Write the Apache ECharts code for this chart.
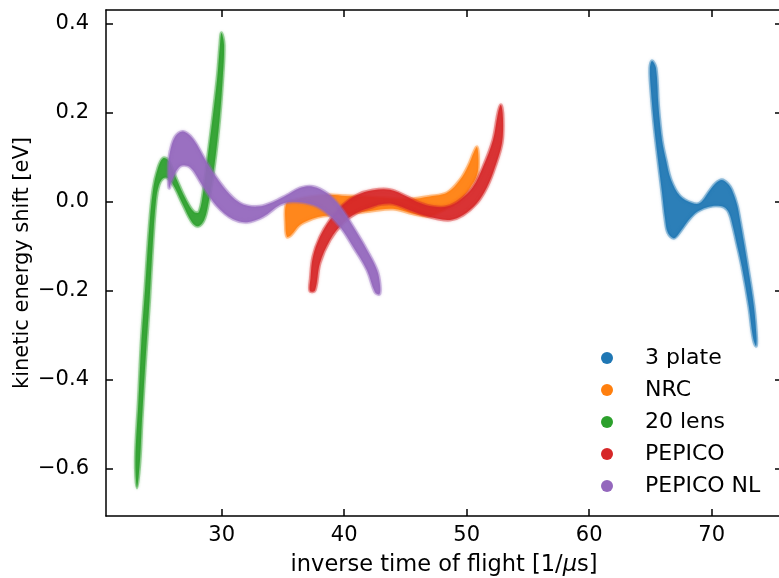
<!DOCTYPE html>
<html>
<head>
<meta charset="utf-8">
<script src="https://cdn.jsdelivr.net/npm/echarts@6/dist/echarts.min.js"></script>
<style>
  html, body { margin: 0; padding: 0; background: #fff; }
  #chart { width: 779px; height: 578px; }
</style>
</head>
<body>
<div id="chart"></div>
<script>
// Outlines of the simulated kinetic-energy-shift clouds, [inverse TOF (1/us), shift (eV)],
// traced once around each band.
const threePlate = [
  [65.13, 0.317], [65.45, 0.301], [65.66, 0.213], [65.94, 0.139], [66.27, 0.094],
  [66.68, 0.049], [67.41, 0.013], [68.39, -0.003], [69.04, -0.003], [69.86, 0.026],
  [70.35, 0.042], [70.84, 0.049], [71.33, 0.040], [71.66, 0.026], [72.07, -0.007],
  [72.31, -0.041], [72.64, -0.093], [72.96, -0.147], [73.45, -0.237], [73.66, -0.307],
  [73.62, -0.325], [73.37, -0.305], [73.04, -0.237], [72.47, -0.147], [71.98, -0.086],
  [71.74, -0.057], [71.41, -0.025], [71.00, -0.012], [70.35, -0.009], [69.70, -0.012],
  [69.04, -0.019], [68.56, -0.028], [67.98, -0.046], [67.41, -0.068], [66.92, -0.082],
  [66.43, -0.070], [66.19, -0.037], [65.94, 0.022], [65.62, 0.094], [65.29, 0.173],
  [65.04, 0.251], [64.96, 0.301]
];

const nrc = [
  [35.29, -0.003], [35.98, 0.004], [37.21, 0.011], [38.84, 0.015], [40.07, 0.013],
  [41.70, 0.011], [43.74, 0.008], [45.37, 0.006], [47.00, 0.012], [48.39, 0.020],
  [49.45, 0.049], [50.11, 0.080], [50.60, 0.112], [50.84, 0.123], [50.96, 0.094],
  [50.84, 0.060], [50.27, 0.031], [49.45, 0.004], [48.39, -0.014], [47.00, -0.032],
  [45.62, -0.027], [43.98, -0.016], [42.11, -0.021], [40.07, -0.028], [38.27, -0.032],
  [37.45, -0.038], [36.39, -0.052], [35.66, -0.075], [35.33, -0.079], [35.21, -0.052]
];

const lens20 = [
  [23.09, -0.644], [22.96, -0.581], [23.21, -0.446], [23.45, -0.311], [23.74, -0.199],
  [24.07, -0.064], [24.39, 0.026], [24.80, 0.076], [25.21, 0.098], [25.62, 0.094],
  [26.27, 0.053], [27.09, 0.004], [27.74, -0.023], [28.15, -0.023], [28.51, 0.026],
  [28.88, 0.105], [29.29, 0.195], [29.66, 0.285], [29.86, 0.353], [29.98, 0.380],
  [30.19, 0.353], [30.07, 0.274], [29.82, 0.184], [29.41, 0.083], [28.96, 0.004],
  [28.56, -0.041], [28.07, -0.055], [27.58, -0.046], [26.84, -0.007], [26.19, 0.031],
  [25.62, 0.053], [25.21, 0.053], [24.88, 0.038], [24.64, 0.004], [24.39, -0.086],
  [24.11, -0.221], [23.78, -0.356], [23.49, -0.491], [23.33, -0.581]
];

const pepico = [
  [37.21, -0.201], [37.25, -0.172], [37.45, -0.124], [38.02, -0.079], [38.84, -0.041],
  [39.90, -0.007], [41.04, 0.015], [42.35, 0.026], [43.74, 0.027], [45.10, 0.012],
  [46.19, -0.003], [47.25, -0.011], [48.39, -0.011], [49.45, 0.004], [50.51, 0.033],
  [51.33, 0.078], [52.15, 0.139], [52.56, 0.200], [52.80, 0.218], [52.96, 0.188],
  [52.88, 0.132], [52.31, 0.078], [51.66, 0.033], [50.84, -0.003], [49.70, -0.030],
  [48.64, -0.041], [47.58, -0.038], [46.43, -0.030], [45.37, -0.019], [43.98, -0.005],
  [42.92, -0.006], [42.35, -0.011], [41.04, -0.025], [39.90, -0.048], [38.84, -0.086],
  [38.02, -0.138], [37.62, -0.199]
];

const pepicoNL = [
  [25.66, 0.083], [25.78, 0.112], [26.19, 0.146], [26.84, 0.158], [27.66, 0.141],
  [28.80, 0.087], [30.11, 0.034], [31.49, -0.003], [32.88, -0.011], [34.19, -0.001],
  [35.33, 0.015], [36.39, 0.031], [37.45, 0.034], [38.60, 0.019], [39.66, -0.011],
  [40.72, -0.056], [41.86, -0.109], [42.68, -0.154], [42.92, -0.187], [42.88, -0.208],
  [42.51, -0.203], [41.86, -0.154], [40.72, -0.101], [39.66, -0.056], [38.60, -0.026],
  [37.45, -0.007], [35.82, 0.000], [34.76, -0.007], [33.37, -0.034], [32.07, -0.046],
  [30.92, -0.039], [29.62, -0.010], [28.47, 0.035], [27.41, 0.078], [26.60, 0.080],
  [25.94, 0.049], [25.70, 0.031]
];

const seriesNames = ['3 plate', 'NRC', '20 lens', 'PEPICO', 'PEPICO NL'];
const seriesOutlines = [threePlate, nrc, lens20, pepico, pepicoNL];
const seriesColors = ['#1f77b4', '#ff7f0e', '#2ca02c', '#d62728', '#9467bd'];

const xTicks = [30, 40, 50, 60, 70];
const yTicks = [-0.6, -0.4, -0.2, 0.0, 0.2, 0.4];
const xRange = [20.555, 75.74];
const yRange = [-0.7074, 0.4316];

const FONT = 'DejaVu Sans';

function rgba(hex, a) {
  const n = parseInt(hex.slice(1), 16);
  return `rgba(${(n >> 16) & 255},${(n >> 8) & 255},${n & 255},${a})`;
}

function fmtTick(v) {
  const s = Math.abs(v).toFixed(1);
  return (v < -1e-9 ? '\u2212' : '') + s;
}

// One filled cloud per instrument, drawn as a closed outline in data coordinates,
// with a soft rim standing in for the sparse outer scatter points.
function bandSeries(name, outline, color) {
  return {
    type: 'custom',
    name: name,
    coordinateSystem: 'cartesian2d',
    data: outline,
    encode: { x: 0, y: 1 },
    itemStyle: { color: color },
    silent: true,
    clip: true,
    renderItem: function (params, api) {
      if (params.dataIndex !== 0) return null;
      const pts = outline.map(function (p) { return api.coord(p); });
      return {
        type: 'polygon',
        shape: { points: pts, smooth: 0.35 },
        style: {
          fill: rgba(color, 0.9),
          stroke: rgba(color, 0.4),
          lineWidth: 3.2,
          shadowBlur: 3,
          shadowColor: rgba(color, 0.45)
        }
      };
    }
  };
}

const spine = { show: true, onZero: false, lineStyle: { color: '#000', width: 1.5 } };
const tickIn = { show: true, inside: true, length: 7, lineStyle: { color: '#000', width: 1.5 } };

const chart = echarts.init(document.getElementById('chart'), null, { renderer: 'canvas' });

chart.setOption({
  animation: false,
  backgroundColor: '#fff',
  grid: {
    left: 106, top: 10, width: 676, height: 506,
    containLabel: false, outerBoundsMode: 'none'
  },
  legend: {
    orient: 'vertical',
    left: 596,
    top: 342,
    icon: 'circle',
    itemWidth: 12,
    itemHeight: 12,
    itemGap: 10,
    selectedMode: false,
    data: seriesNames,
    textStyle: {
      fontFamily: FONT, fontSize: 22, color: '#000', lineHeight: 22,
      padding: [0, 0, 0, 27]
    }
  },
  xAxis: [
    {
      type: 'value', position: 'bottom', min: xRange[0], max: xRange[1],
      axisLine: spine,
      axisTick: Object.assign({ customValues: xTicks }, tickIn),
      axisLabel: {
        customValues: xTicks, margin: 9, color: '#000',
        fontFamily: FONT, fontSize: 21, formatter: function (v) { return String(v); }
      },
      splitLine: { show: false },
      name: 'inverse time of flight [1/{it|μ}s]',
      nameLocation: 'middle',
      nameGap: 38,
      nameTextStyle: {
        fontFamily: FONT, fontSize: 22.5, color: '#000',
        rich: { it: { fontFamily: FONT, fontSize: 22.5, fontStyle: 'italic', color: '#000' } }
      }
    },
    {
      type: 'value', position: 'top', min: xRange[0], max: xRange[1],
      axisLine: spine,
      axisTick: Object.assign({ customValues: xTicks }, tickIn),
      axisLabel: { show: false },
      splitLine: { show: false }
    }
  ],
  yAxis: [
    {
      type: 'value', position: 'left', min: yRange[0], max: yRange[1],
      axisLine: spine,
      axisTick: Object.assign({ customValues: yTicks }, tickIn),
      axisLabel: {
        customValues: yTicks, margin: 17, color: '#000',
        fontFamily: FONT, fontSize: 21, formatter: fmtTick
      },
      splitLine: { show: false },
      name: 'kinetic energy shift [eV]',
      nameLocation: 'middle',
      nameRotate: 90,
      nameGap: 73,
      nameMoveOverlap: false,
      nameTextStyle: { fontFamily: FONT, fontSize: 21, color: '#000' }
    },
    {
      type: 'value', position: 'right', min: yRange[0], max: yRange[1],
      axisLine: spine,
      axisTick: Object.assign({ customValues: yTicks }, tickIn),
      axisLabel: { show: false },
      splitLine: { show: false }
    }
  ],
  series: seriesNames.map(function (n, i) {
    return bandSeries(n, seriesOutlines[i], seriesColors[i]);
  })
});
</script>
</body>
</html>
